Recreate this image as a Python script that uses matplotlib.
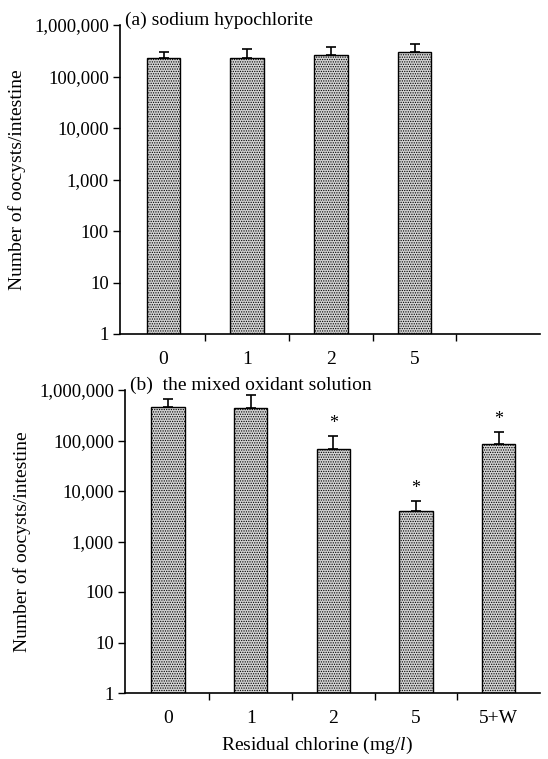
import matplotlib
matplotlib.use("Agg")
import matplotlib.pyplot as plt
import numpy as np
from matplotlib.ticker import FixedLocator, FuncFormatter

plt.rcParams['font.family'] = ['Liberation Serif', 'DejaVu Serif']
plt.rcParams['mathtext.fontset'] = 'custom'
plt.rcParams['mathtext.it'] = 'Liberation Serif:style=italic'
plt.rcParams['mathtext.rm'] = 'Liberation Serif'
plt.rcParams['hatch.color'] = '#3a3a3a'
plt.rcParams['hatch.linewidth'] = 0.6

# Data
cats_a = ["0", "1", "2", "5", ""]
vals_a = [232000, 225000, 261000, 295000]
upper_a = [303000, 337000, 380000, 422000]

cats_b = ["0", "1", "2", "5", "5+W"]
vals_b = [468000, 440000, 68000, 4100, 84000]
upper_b = [655000, 800000, 124000, 6400, 148000]
sig_b = [False, False, True, True, True]

titles = ["(a) sodium hypochlorite", "(b)  the mixed oxidant solution"]
ylabel = "Number of oocysts/intestine"
xlabel = "Residual chlorine (mg/$\\mathit{l}$)"
ytick_vals = [1, 10, 100, 1000, 10000, 100000, 1000000]

fig = plt.figure(figsize=(5.48, 7.59), dpi=100)
ax_a = fig.add_axes([120/548, 1-334/759, 420/548, 309/759])
ax_b = fig.add_axes([125/548, 1-693/759, 415/548, 303/759])

def style(ax, cats, title):
    ax.set_yscale('log')
    ax.set_ylim(1, 1e6)
    ax.set_xlim(-0.52, 4.5)
    ax.yaxis.set_major_locator(FixedLocator(ytick_vals))
    ax.yaxis.set_minor_locator(FixedLocator([]))
    ax.yaxis.set_major_formatter(FuncFormatter(lambda v, p: f"{int(round(v)):,}"))
    ax.set_xticks(range(len(cats)))
    ax.set_xticklabels(cats)
    ax.set_xticks(np.arange(0.5, len(cats) - 0.5, 1.0), minor=True)
    ax.tick_params(axis='x', which='major', length=0, labelsize=14, pad=12)
    ax.tick_params(axis='x', which='minor', length=5, width=1, direction='out')
    ax.tick_params(axis='y', which='major', length=5, width=1, direction='out', labelsize=13.5, pad=3)
    for s in ['top', 'right']:
        ax.spines[s].set_visible(False)
    for s in ['left', 'bottom']:
        ax.spines[s].set_linewidth(1.2)
    ax.set_ylabel(ylabel, fontsize=14, labelpad=6)
    ax.text(0.012, 1.0 + 5/309, title, transform=ax.transAxes, fontsize=14,
            ha='left', va='center')

def draw(ax, vals, upper, sig=None):
    x = np.arange(len(vals))
    err = [np.zeros(len(vals)), np.array(upper) - np.array(vals)]
    ax.errorbar(x, vals, yerr=err, fmt='none', ecolor='black', elinewidth=1.2,
                capsize=3.5, capthick=1.2, zorder=1)
    ax.bar(x, vals, width=0.4, facecolor='#d4d4d4', edgecolor='black',
           linewidth=1.0, hatch='.......', zorder=2)
    if sig is not None:
        for xi, u, s in zip(x, upper, sig):
            if s:
                ax.annotate('*', (xi, u), xytext=(0, 3), textcoords='offset points',
                            ha='center', va='bottom', fontsize=13)

style(ax_a, cats_a, titles[0])
draw(ax_a, vals_a, upper_a)
style(ax_b, cats_b, titles[1])
draw(ax_b, vals_b, upper_b, sig_b)
ax_b.set_xlabel(xlabel, fontsize=14)
ax_b.xaxis.set_label_coords((317 - 125) / 415, -(745 - 693) / 303)
ax_b.xaxis.label.set_va('center')

fig.savefig("out.png", dpi=100)
